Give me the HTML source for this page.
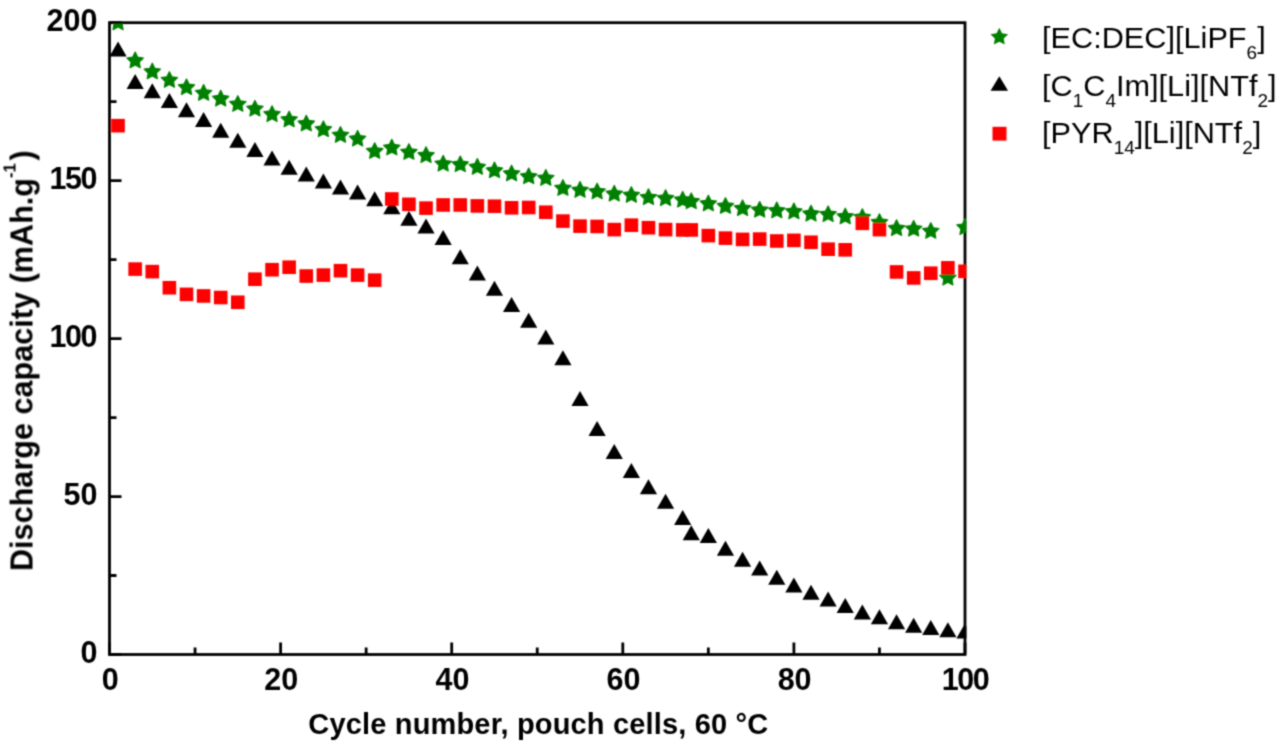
<!DOCTYPE html>
<html><head><meta charset="utf-8"><title>Discharge capacity chart</title>
<style>
html,body{margin:0;padding:0;background:#fff;}
svg{display:block;}
text{font-family:"Liberation Sans",sans-serif;}
</style></head><body>
<svg width="1280" height="742" viewBox="0 0 1280 742">
<rect width="1280" height="742" fill="#fff"/>
<defs><filter id="soft" filterUnits="userSpaceOnUse" x="0" y="0" width="1280" height="742"><feConvolveMatrix order="3" kernelMatrix="1 3 1 3 9 3 1 3 1" divisor="25" edgeMode="duplicate"/></filter><clipPath id="pc"><rect x="109.50" y="23.80" width="856.90" height="630.70"/></clipPath></defs>
<g filter="url(#soft)">

<rect x="109.50" y="22.70" width="855.50" height="631.80" fill="none" stroke="#000" stroke-width="2.8"/>
<path d="M109.50,654.50 V642.50 M195.05,654.50 V647.50 M280.60,654.50 V642.50 M366.15,654.50 V647.50 M451.70,654.50 V642.50 M537.25,654.50 V647.50 M622.80,654.50 V642.50 M708.35,654.50 V647.50 M793.90,654.50 V642.50 M879.45,654.50 V647.50 M965.00,654.50 V642.50 M109.50,654.50 H121.50 M109.50,575.52 H116.50 M109.50,496.55 H121.50 M109.50,417.58 H116.50 M109.50,338.60 H121.50 M109.50,259.62 H116.50 M109.50,180.65 H121.50 M109.50,101.68 H116.50 M109.50,22.70 H121.50" stroke="#000" stroke-width="2.8" fill="none"/>
<g clip-path="url(#pc)">
<path fill="#008000" stroke="#008000" stroke-width="1.2" stroke-linejoin="round" d="M118.06,14.18 L120.58,19.31 L126.23,20.13 L122.14,24.11 L123.11,29.74 L118.06,27.08 L113.00,29.74 L113.97,24.11 L109.88,20.13 L115.53,19.31Z M135.16,52.09 L137.69,57.21 L143.34,58.03 L139.25,62.02 L140.22,67.65 L135.16,64.99 L130.11,67.65 L131.08,62.02 L126.99,58.03 L132.64,57.21Z M152.28,63.15 L154.80,68.27 L160.45,69.09 L156.36,73.08 L157.33,78.71 L152.28,76.05 L147.22,78.71 L148.19,73.08 L144.10,69.09 L149.75,68.27Z M169.38,71.68 L171.91,76.80 L177.56,77.62 L173.47,81.61 L174.44,87.24 L169.38,84.58 L164.33,87.24 L165.30,81.61 L161.21,77.62 L166.86,76.80Z M186.50,78.94 L189.02,84.06 L194.67,84.89 L190.58,88.87 L191.55,94.50 L186.50,91.84 L181.44,94.50 L182.41,88.87 L178.32,84.89 L183.97,84.06Z M203.60,84.63 L206.13,89.75 L211.78,90.57 L207.69,94.56 L208.66,100.19 L203.60,97.53 L198.55,100.19 L199.52,94.56 L195.43,90.57 L201.08,89.75Z M220.72,90.32 L223.24,95.44 L228.89,96.26 L224.80,100.24 L225.77,105.87 L220.72,103.22 L215.66,105.87 L216.63,100.24 L212.54,96.26 L218.19,95.44Z M237.82,95.69 L240.35,100.81 L246.00,101.63 L241.91,105.62 L242.88,111.24 L237.82,108.59 L232.77,111.24 L233.74,105.62 L229.65,101.63 L235.30,100.81Z M254.94,100.42 L257.46,105.55 L263.11,106.37 L259.02,110.35 L259.99,115.98 L254.94,113.32 L249.88,115.98 L250.85,110.35 L246.76,106.37 L252.41,105.55Z M272.04,105.80 L274.57,110.92 L280.22,111.74 L276.13,115.72 L277.10,121.35 L272.04,118.70 L266.99,121.35 L267.96,115.72 L263.87,111.74 L269.52,110.92Z M289.15,111.17 L291.68,116.29 L297.33,117.11 L293.24,121.09 L294.21,126.72 L289.15,124.07 L284.10,126.72 L285.07,121.09 L280.98,117.11 L286.63,116.29Z M306.26,115.27 L308.79,120.39 L314.44,121.21 L310.35,125.20 L311.32,130.83 L306.26,128.17 L301.21,130.83 L302.18,125.20 L298.09,121.21 L303.74,120.39Z M323.38,120.96 L325.90,126.08 L331.55,126.90 L327.46,130.89 L328.43,136.52 L323.38,133.86 L318.32,136.52 L319.29,130.89 L315.20,126.90 L320.85,126.08Z M340.49,126.64 L343.01,131.77 L348.66,132.59 L344.57,136.57 L345.54,142.20 L340.49,139.54 L335.43,142.20 L336.40,136.57 L332.31,132.59 L337.96,131.77Z M357.60,130.44 L360.12,135.56 L365.77,136.38 L361.68,140.36 L362.65,145.99 L357.60,143.34 L352.54,145.99 L353.51,140.36 L349.42,136.38 L355.07,135.56Z M374.70,142.76 L377.23,147.88 L382.88,148.70 L378.79,152.68 L379.76,158.31 L374.70,155.66 L369.65,158.31 L370.62,152.68 L366.53,148.70 L372.18,147.88Z M391.81,139.28 L394.34,144.40 L399.99,145.22 L395.90,149.21 L396.87,154.84 L391.81,152.18 L386.76,154.84 L387.73,149.21 L383.64,145.22 L389.29,144.40Z M408.93,143.70 L411.45,148.82 L417.10,149.65 L413.01,153.63 L413.98,159.26 L408.93,156.60 L403.87,159.26 L404.84,153.63 L400.75,149.65 L406.40,148.82Z M426.03,146.86 L428.56,151.98 L434.21,152.80 L430.12,156.79 L431.09,162.42 L426.03,159.76 L420.98,162.42 L421.95,156.79 L417.86,152.80 L423.51,151.98Z M443.14,155.39 L445.67,160.51 L451.32,161.33 L447.23,165.32 L448.20,170.95 L443.14,168.29 L438.09,170.95 L439.06,165.32 L434.97,161.33 L440.62,160.51Z M460.25,156.02 L462.78,161.14 L468.43,161.97 L464.34,165.95 L465.31,171.58 L460.25,168.92 L455.20,171.58 L456.17,165.95 L452.08,161.97 L457.73,161.14Z M477.37,158.55 L479.89,163.67 L485.54,164.49 L481.45,168.48 L482.42,174.11 L477.37,171.45 L472.31,174.11 L473.28,168.48 L469.19,164.49 L474.84,163.67Z M494.47,162.03 L497.00,167.15 L502.65,167.97 L498.56,171.95 L499.53,177.58 L494.47,174.93 L489.42,177.58 L490.39,171.95 L486.30,167.97 L491.95,167.15Z M511.58,165.18 L514.11,170.31 L519.76,171.13 L515.67,175.11 L516.64,180.74 L511.58,178.08 L506.53,180.74 L507.50,175.11 L503.41,171.13 L509.06,170.31Z M528.69,168.03 L531.22,173.15 L536.87,173.97 L532.78,177.96 L533.75,183.58 L528.69,180.93 L523.64,183.58 L524.61,177.96 L520.52,173.97 L526.17,173.15Z M545.81,169.61 L548.33,174.73 L553.98,175.55 L549.89,179.54 L550.86,185.16 L545.81,182.51 L540.75,185.16 L541.72,179.54 L537.63,175.55 L543.28,174.73Z M562.91,179.72 L565.44,184.84 L571.09,185.66 L567.00,189.64 L567.97,195.27 L562.91,192.62 L557.86,195.27 L558.83,189.64 L554.74,185.66 L560.39,184.84Z M580.02,181.61 L582.55,186.73 L588.20,187.55 L584.11,191.54 L585.08,197.17 L580.02,194.51 L574.97,197.17 L575.94,191.54 L571.85,187.55 L577.50,186.73Z M597.13,183.19 L599.66,188.31 L605.31,189.13 L601.22,193.12 L602.19,198.75 L597.13,196.09 L592.08,198.75 L593.05,193.12 L588.96,189.13 L594.61,188.31Z M614.25,185.40 L616.77,190.52 L622.42,191.34 L618.33,195.33 L619.30,200.96 L614.25,198.30 L609.19,200.96 L610.16,195.33 L606.07,191.34 L611.72,190.52Z M631.36,186.67 L633.88,191.79 L639.53,192.61 L635.44,196.59 L636.41,202.22 L631.36,199.57 L626.30,202.22 L627.27,196.59 L623.18,192.61 L628.83,191.79Z M648.47,188.88 L650.99,194.00 L656.64,194.82 L652.55,198.81 L653.52,204.43 L648.47,201.78 L643.41,204.43 L644.38,198.81 L640.29,194.82 L645.94,194.00Z M665.57,189.82 L668.10,194.95 L673.75,195.77 L669.66,199.75 L670.63,205.38 L665.57,202.72 L660.52,205.38 L661.49,199.75 L657.40,195.77 L663.05,194.95Z M682.68,191.40 L685.21,196.53 L690.86,197.35 L686.77,201.33 L687.74,206.96 L682.68,204.30 L677.63,206.96 L678.60,201.33 L674.51,197.35 L680.16,196.53Z M691.24,192.98 L693.77,198.10 L699.42,198.93 L695.33,202.91 L696.29,208.54 L691.24,205.88 L686.19,208.54 L687.15,202.91 L683.06,198.93 L688.71,198.10Z M708.35,195.19 L710.88,200.32 L716.53,201.14 L712.44,205.12 L713.40,210.75 L708.35,208.09 L703.30,210.75 L704.26,205.12 L700.17,201.14 L705.82,200.32Z M725.46,197.72 L727.99,202.84 L733.64,203.66 L729.55,207.65 L730.51,213.28 L725.46,210.62 L720.41,213.28 L721.37,207.65 L717.28,203.66 L722.93,202.84Z M742.57,199.93 L745.10,205.05 L750.75,205.88 L746.66,209.86 L747.62,215.49 L742.57,212.83 L737.52,215.49 L738.48,209.86 L734.39,205.88 L740.04,205.05Z M759.68,201.51 L762.21,206.63 L767.86,207.46 L763.77,211.44 L764.73,217.07 L759.68,214.41 L754.63,217.07 L755.59,211.44 L751.50,207.46 L757.15,206.63Z M776.79,202.14 L779.32,207.27 L784.97,208.09 L780.88,212.07 L781.84,217.70 L776.79,215.04 L771.74,217.70 L772.70,212.07 L768.61,208.09 L774.26,207.27Z M793.90,203.09 L796.43,208.21 L802.08,209.03 L797.99,213.02 L798.95,218.65 L793.90,215.99 L788.85,218.65 L789.81,213.02 L785.72,209.03 L791.37,208.21Z M811.01,205.30 L813.54,210.42 L819.19,211.25 L815.10,215.23 L816.06,220.86 L811.01,218.20 L805.96,220.86 L806.92,215.23 L802.83,211.25 L808.48,210.42Z M828.12,205.94 L830.65,211.06 L836.30,211.88 L832.21,215.86 L833.17,221.49 L828.12,218.84 L823.07,221.49 L824.03,215.86 L819.94,211.88 L825.59,211.06Z M845.23,208.15 L847.76,213.27 L853.41,214.09 L849.32,218.08 L850.28,223.70 L845.23,221.05 L840.18,223.70 L841.14,218.08 L837.05,214.09 L842.70,213.27Z M862.34,208.78 L864.87,213.90 L870.52,214.72 L866.43,218.71 L867.39,224.34 L862.34,221.68 L857.29,224.34 L858.25,218.71 L854.16,214.72 L859.81,213.90Z M879.45,213.83 L881.98,218.95 L887.63,219.78 L883.54,223.76 L884.50,229.39 L879.45,226.73 L874.40,229.39 L875.36,223.76 L871.27,219.78 L876.92,218.95Z M896.56,219.84 L899.09,224.96 L904.74,225.78 L900.65,229.76 L901.61,235.39 L896.56,232.74 L891.51,235.39 L892.47,229.76 L888.38,225.78 L894.03,224.96Z M913.67,220.47 L916.20,225.59 L921.85,226.41 L917.76,230.40 L918.72,236.02 L913.67,233.37 L908.62,236.02 L909.58,230.40 L905.49,226.41 L911.14,225.59Z M930.78,222.68 L933.31,227.80 L938.96,228.62 L934.87,232.61 L935.83,238.24 L930.78,235.58 L925.73,238.24 L926.69,232.61 L922.60,228.62 L928.25,227.80Z M947.89,269.43 L950.42,274.55 L956.07,275.37 L951.98,279.36 L952.94,284.99 L947.89,282.33 L942.84,284.99 L943.80,279.36 L939.71,275.37 L945.36,274.55Z M965.00,218.89 L967.53,224.01 L973.18,224.83 L969.09,228.82 L970.05,234.44 L965.00,231.79 L959.95,234.44 L960.91,228.82 L956.82,224.83 L962.47,224.01Z"/>
<path fill="#000" d="M118.06,41.50 L126.66,56.50 L109.46,56.50Z M135.16,74.04 L143.76,89.04 L126.56,89.04Z M152.28,83.20 L160.88,98.20 L143.68,98.20Z M169.38,93.00 L177.98,108.00 L160.78,108.00Z M186.50,102.16 L195.09,117.16 L177.90,117.16Z M203.60,111.95 L212.20,126.95 L195.00,126.95Z M220.72,122.69 L229.31,137.69 L212.12,137.69Z M237.82,132.80 L246.42,147.80 L229.22,147.80Z M254.94,141.96 L263.54,156.96 L246.34,156.96Z M272.04,150.49 L280.64,165.49 L263.44,165.49Z M289.15,159.65 L297.75,174.65 L280.55,174.65Z M306.26,166.60 L314.87,181.60 L297.66,181.60Z M323.38,173.55 L331.98,188.55 L314.77,188.55Z M340.49,179.55 L349.09,194.55 L331.88,194.55Z M357.60,184.61 L366.20,199.61 L349.00,199.61Z M374.70,191.24 L383.31,206.24 L366.10,206.24Z M391.81,199.14 L400.42,214.14 L383.21,214.14Z M408.93,210.83 L417.53,225.83 L400.32,225.83Z M426.03,218.41 L434.63,233.41 L417.43,233.41Z M443.14,230.10 L451.75,245.10 L434.54,245.10Z M460.25,249.37 L468.86,264.37 L451.65,264.37Z M477.37,265.48 L485.97,280.48 L468.76,280.48Z M494.47,280.64 L503.07,295.64 L485.87,295.64Z M511.58,297.07 L520.18,312.07 L502.98,312.07Z M528.69,312.86 L537.29,327.86 L520.09,327.86Z M545.81,329.60 L554.41,344.60 L537.21,344.60Z M562.91,350.14 L571.51,365.14 L554.31,365.14Z M580.02,390.89 L588.62,405.89 L571.42,405.89Z M597.13,420.90 L605.74,435.90 L588.53,435.90Z M614.25,443.96 L622.85,458.96 L605.64,458.96Z M631.36,462.91 L639.96,477.91 L622.75,477.91Z M648.47,479.34 L657.07,494.34 L639.87,494.34Z M665.57,493.87 L674.17,508.87 L656.97,508.87Z M682.68,509.98 L691.28,524.98 L674.08,524.98Z M691.24,525.15 L699.84,540.15 L682.64,540.15Z M708.35,527.99 L716.95,542.99 L699.75,542.99Z M725.46,540.63 L734.06,555.63 L716.86,555.63Z M742.57,551.68 L751.17,566.68 L733.97,566.68Z M759.68,560.53 L768.28,575.53 L751.08,575.53Z M776.79,569.69 L785.39,584.69 L768.19,584.69Z M793.90,577.59 L802.50,592.59 L785.30,592.59Z M811.01,584.85 L819.61,599.85 L802.41,599.85Z M828.12,591.49 L836.72,606.49 L819.52,606.49Z M845.23,598.12 L853.83,613.12 L836.63,613.12Z M862.34,604.44 L870.94,619.44 L853.74,619.44Z M879.45,609.18 L888.05,624.18 L870.85,624.18Z M896.56,614.23 L905.16,629.23 L887.96,629.23Z M913.67,617.71 L922.27,632.71 L905.07,632.71Z M930.78,619.92 L939.38,634.92 L922.18,634.92Z M947.89,622.13 L956.49,637.13 L939.29,637.13Z M965.00,623.39 L973.60,638.39 L956.40,638.39Z"/>
<g fill="#ff0000"><rect x="111.26" y="118.88" width="13.6" height="13.6"/><rect x="128.36" y="262.30" width="13.6" height="13.6"/><rect x="145.47" y="264.83" width="13.6" height="13.6"/><rect x="162.58" y="280.94" width="13.6" height="13.6"/><rect x="179.69" y="287.57" width="13.6" height="13.6"/><rect x="196.80" y="289.15" width="13.6" height="13.6"/><rect x="213.91" y="290.73" width="13.6" height="13.6"/><rect x="231.02" y="295.47" width="13.6" height="13.6"/><rect x="248.13" y="272.41" width="13.6" height="13.6"/><rect x="265.24" y="262.93" width="13.6" height="13.6"/><rect x="282.35" y="260.41" width="13.6" height="13.6"/><rect x="299.46" y="269.25" width="13.6" height="13.6"/><rect x="316.57" y="268.30" width="13.6" height="13.6"/><rect x="333.69" y="263.88" width="13.6" height="13.6"/><rect x="350.80" y="268.30" width="13.6" height="13.6"/><rect x="367.90" y="273.36" width="13.6" height="13.6"/><rect x="385.01" y="192.17" width="13.6" height="13.6"/><rect x="402.12" y="197.54" width="13.6" height="13.6"/><rect x="419.23" y="201.33" width="13.6" height="13.6"/><rect x="436.34" y="198.17" width="13.6" height="13.6"/><rect x="453.45" y="198.17" width="13.6" height="13.6"/><rect x="470.56" y="199.12" width="13.6" height="13.6"/><rect x="487.67" y="199.44" width="13.6" height="13.6"/><rect x="504.78" y="201.02" width="13.6" height="13.6"/><rect x="521.89" y="200.70" width="13.6" height="13.6"/><rect x="539.01" y="205.44" width="13.6" height="13.6"/><rect x="556.12" y="214.29" width="13.6" height="13.6"/><rect x="573.23" y="219.34" width="13.6" height="13.6"/><rect x="590.34" y="219.66" width="13.6" height="13.6"/><rect x="607.45" y="222.81" width="13.6" height="13.6"/><rect x="624.56" y="218.39" width="13.6" height="13.6"/><rect x="641.67" y="220.92" width="13.6" height="13.6"/><rect x="658.77" y="222.81" width="13.6" height="13.6"/><rect x="675.88" y="223.13" width="13.6" height="13.6"/><rect x="684.44" y="223.13" width="13.6" height="13.6"/><rect x="701.55" y="228.82" width="13.6" height="13.6"/><rect x="718.66" y="231.34" width="13.6" height="13.6"/><rect x="735.77" y="232.61" width="13.6" height="13.6"/><rect x="752.88" y="232.29" width="13.6" height="13.6"/><rect x="769.99" y="234.19" width="13.6" height="13.6"/><rect x="787.10" y="233.56" width="13.6" height="13.6"/><rect x="804.21" y="235.45" width="13.6" height="13.6"/><rect x="821.32" y="242.40" width="13.6" height="13.6"/><rect x="838.43" y="243.03" width="13.6" height="13.6"/><rect x="855.54" y="216.50" width="13.6" height="13.6"/><rect x="872.65" y="222.81" width="13.6" height="13.6"/><rect x="889.76" y="265.15" width="13.6" height="13.6"/><rect x="906.87" y="271.15" width="13.6" height="13.6"/><rect x="923.98" y="266.41" width="13.6" height="13.6"/><rect x="941.09" y="261.04" width="13.6" height="13.6"/><rect x="958.20" y="264.51" width="13.6" height="13.6"/></g>
</g>
<text x="110.20" y="690" font-size="30.5" font-weight="bold" text-anchor="middle">0</text>
<text x="281.30" y="690" font-size="30.5" font-weight="bold" text-anchor="middle">20</text>
<text x="452.40" y="690" font-size="30.5" font-weight="bold" text-anchor="middle">40</text>
<text x="623.50" y="690" font-size="30.5" font-weight="bold" text-anchor="middle">60</text>
<text x="794.60" y="690" font-size="30.5" font-weight="bold" text-anchor="middle">80</text>
<text x="965.70" y="690" font-size="30.5" font-weight="bold" text-anchor="middle" textLength="48" lengthAdjust="spacing">100</text>
<text x="97.5" y="662.50" font-size="30.5" font-weight="bold" text-anchor="end">0</text>
<text x="97.5" y="504.55" font-size="30.5" font-weight="bold" text-anchor="end">50</text>
<text x="97.5" y="346.60" font-size="30.5" font-weight="bold" text-anchor="end" textLength="48" lengthAdjust="spacing">100</text>
<text x="97.5" y="188.65" font-size="30.5" font-weight="bold" text-anchor="end" textLength="48" lengthAdjust="spacing">150</text>
<text x="97.5" y="30.70" font-size="30.5" font-weight="bold" text-anchor="end">200</text>
<text x="308.3" y="734" font-size="29" font-weight="bold" textLength="460" lengthAdjust="spacing">Cycle number, pouch cells, 60 °C</text>
<g transform="translate(32.5,569.5) rotate(-90)" font-weight="bold"><text x="-1.5" y="0" font-size="30.5" textLength="393" lengthAdjust="spacing">Discharge capacity (mAh.g</text><text x="391.5" y="-17.5" font-size="16.5">-1</text><text x="409" y="0" font-size="30.5">)</text></g>
<path fill="#008000" d="M999.30,27.70 L1002.03,33.24 L1008.14,34.13 L1003.72,38.44 L1004.77,44.52 L999.30,41.65 L993.83,44.52 L994.88,38.44 L990.46,34.13 L996.57,33.24Z"/>
<path fill="#000" d="M999.30,76.20 L1008.05,90.80 L990.55,90.80Z"/>
<rect x="992.5" y="126.8" width="14" height="13.8" fill="#ff0000"/>
<text transform="translate(1042,47.5) scale(1.037,1)" x="0" y="0" font-size="29.6">[EC:DEC][LiPF<tspan font-size="18.3" dy="11">6</tspan><tspan dy="-11">]</tspan></text>
<text transform="translate(1042,95.5) scale(1.037,1)" x="0" y="0" font-size="29.6">[C<tspan font-size="18.3" dy="11">1</tspan><tspan dy="-11">C</tspan><tspan font-size="18.3" dy="11">4</tspan><tspan dy="-11">Im][Li][NTf</tspan><tspan font-size="18.3" dy="11">2</tspan><tspan dy="-11">]</tspan></text>
<text transform="translate(1042,143) scale(1.037,1)" x="0" y="0" font-size="29.6">[PYR<tspan font-size="18.3" dy="11">14</tspan><tspan dy="-11">][Li][NTf</tspan><tspan font-size="18.3" dy="11">2</tspan><tspan dy="-11">]</tspan></text>
</g></svg></body></html>
